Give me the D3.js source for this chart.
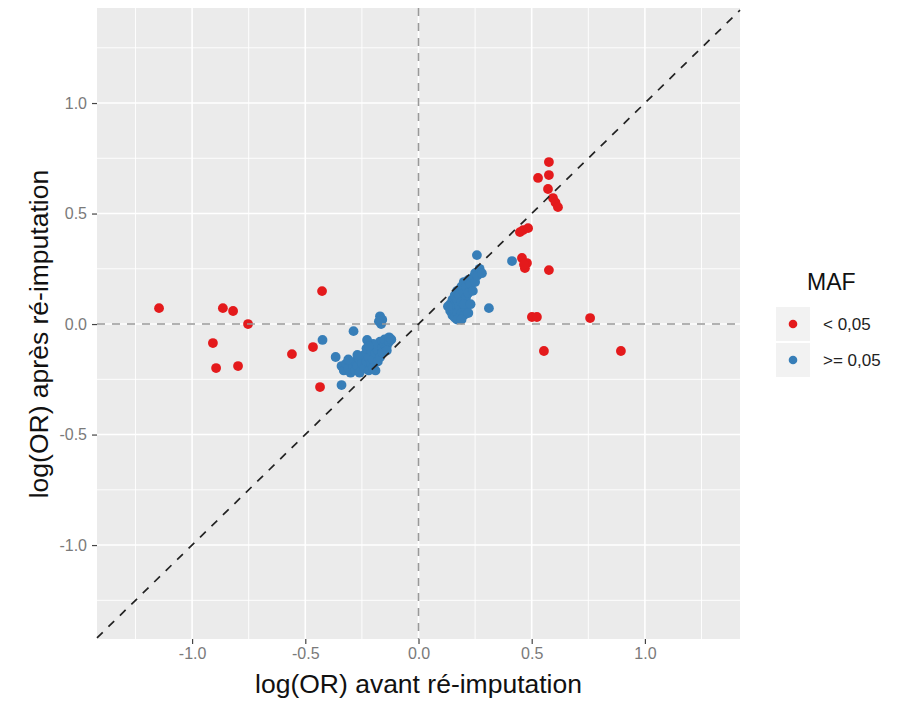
<!DOCTYPE html>
<html>
<head>
<meta charset="utf-8">
<script src="https://cdn.jsdelivr.net/npm/d3@7"></script>
<style>
  body { margin: 0; background: #fff; }
  text { font-family: "Liberation Sans", Arial, sans-serif; }
</style>
</head>
<body>
<div id="chart"></div>
<script>
// log(OR) avant / après ré-imputation, MAF < 0,05
let maf_low = [
    [-1.146, 0.072], [-0.864, 0.072], [-0.819, 0.059], [-0.753, 0.0],
    [-0.908, -0.086], [-0.894, -0.199], [-0.797, -0.19], [-0.426, 0.149],
    [-0.559, -0.136], [-0.466, -0.104], [-0.435, -0.285],
    [0.576, 0.733], [0.576, 0.674], [0.528, 0.661], [0.572, 0.611],
    [0.594, 0.57], [0.605, 0.55], [0.616, 0.529],
    [0.448, 0.416], [0.462, 0.425], [0.484, 0.434],
    [0.457, 0.299], [0.479, 0.276], [0.47, 0.253], [0.466, 0.27],
    [0.576, 0.244], [0.501, 0.032], [0.523, 0.032], [0.758, 0.027],
    [0.554, -0.122], [0.894, -0.122]
];

// MAF >= 0,05
let maf_high = [
    [-0.34, -0.19], [-0.33, -0.21], [-0.32, -0.18], [-0.31, -0.2], [-0.3, -0.22],
    [-0.29, -0.19], [-0.28, -0.17], [-0.28, -0.21], [-0.27, -0.19], [-0.26, -0.22],
    [-0.26, -0.16], [-0.25, -0.18], [-0.24, -0.2], [-0.24, -0.14], [-0.23, -0.17],
    [-0.23, -0.11], [-0.22, -0.21], [-0.22, -0.15], [-0.21, -0.18], [-0.21, -0.12],
    [-0.2, -0.16], [-0.2, -0.2], [-0.19, -0.13], [-0.19, -0.1], [-0.18, -0.17],
    [-0.18, -0.12], [-0.17, -0.15], [-0.17, -0.08], [-0.16, -0.11], [-0.16, -0.13],
    [-0.15, -0.09], [-0.15, -0.07], [-0.14, -0.1], [-0.13, -0.08], [-0.13, -0.06],
    [-0.12, -0.07], [-0.2, -0.09], [-0.227, -0.072], [-0.287, -0.032],
    [-0.31, -0.16], [-0.27, -0.14], [-0.19, -0.21], [-0.14, -0.12], [-0.22, -0.1],
    [-0.17, 0.035], [-0.16, 0.02], [-0.165, 0.0], [-0.175, 0.012],
    [-0.366, -0.149], [-0.34, -0.276], [-0.424, -0.072],
    [0.14, 0.06], [0.14, 0.09], [0.15, 0.04], [0.15, 0.11], [0.15, 0.07],
    [0.16, 0.03], [0.16, 0.13], [0.16, 0.09], [0.17, 0.05], [0.17, 0.15],
    [0.17, 0.11], [0.18, 0.03], [0.18, 0.08], [0.18, 0.13], [0.19, 0.05],
    [0.19, 0.17], [0.19, 0.1], [0.2, 0.04], [0.2, 0.14], [0.2, 0.19],
    [0.21, 0.07], [0.21, 0.12], [0.21, 0.17], [0.22, 0.05], [0.22, 0.2],
    [0.22, 0.14], [0.23, 0.18], [0.24, 0.21], [0.25, 0.19], [0.25, 0.23],
    [0.26, 0.22], [0.27, 0.25], [0.28, 0.23], [0.17, 0.02], [0.2, 0.09],
    [0.23, 0.09], [0.24, 0.15], [0.13, 0.08], [0.19, 0.02],
    [0.258, 0.312], [0.413, 0.285], [0.311, 0.072]
];

let major_ticks = [-1.0, -0.5, 0.0, 0.5, 1.0];
let minor_ticks = [-1.25, -0.75, -0.25, 0.25, 0.75, 1.25];
let legend_groups = ["< 0,05", ">= 0,05"];
let palette = ["#e41a1c", "#377eb8"];

function main() {
    let w = 903, h = 718;
    let svg = d3.select("#chart").append("svg")
        .attr("width", w)
        .attr("height", h);

    let x = d3.scaleLinear().domain([-1.42, 1.42]).range([97, 740]);
    let y = d3.scaleLinear().domain([-1.425, 1.43]).range([639, 8]);
    let [x0, x1] = x.range(), [y1, y0] = y.range();

    // panel
    svg.append("rect")
        .attr("x", x0).attr("y", y0)
        .attr("width", x1 - x0).attr("height", y1 - y0)
        .attr("fill", "#ebebeb");

    let grid = svg.append("g");
    minor_ticks.forEach(t => {
        grid.append("line").attr("x1", x(t)).attr("x2", x(t)).attr("y1", y0).attr("y2", y1)
            .attr("stroke", "#fff").attr("stroke-width", 0.9);
        grid.append("line").attr("y1", y(t)).attr("y2", y(t)).attr("x1", x0).attr("x2", x1)
            .attr("stroke", "#fff").attr("stroke-width", 0.9);
    });
    major_ticks.forEach(t => {
        grid.append("line").attr("x1", x(t)).attr("x2", x(t)).attr("y1", y0).attr("y2", y1)
            .attr("stroke", "#fff").attr("stroke-width", 1.6);
        grid.append("line").attr("y1", y(t)).attr("y2", y(t)).attr("x1", x0).attr("x2", x1)
            .attr("stroke", "#fff").attr("stroke-width", 1.6);
    });

    // points
    let groups = [maf_high, maf_low];
    let colors = [palette[1], palette[0]];
    groups.forEach((g, i) => {
        svg.append("g").selectAll("circle")
            .data(g)
            .enter().append("circle")
            .attr("cx", d => x(d[0]))
            .attr("cy", d => y(d[1]))
            .attr("r", 4.9)
            .attr("fill", colors[i]);
    });

    // reference lines
    svg.append("line")
        .attr("x1", x(0)).attr("x2", x(0)).attr("y1", y0).attr("y2", y1)
        .attr("stroke", "#999").attr("stroke-width", 1.6)
        .attr("stroke-dasharray", "8,7");
    svg.append("line")
        .attr("x1", x0).attr("x2", x1).attr("y1", y(0)).attr("y2", y(0))
        .attr("stroke", "#999").attr("stroke-width", 1.6)
        .attr("stroke-dasharray", "8,7");
    let lo = Math.max(x.domain()[0], y.domain()[0]);
    let hi = Math.min(x.domain()[1], y.domain()[1]);
    svg.append("line")
        .attr("x1", x(lo)).attr("y1", y(lo))
        .attr("x2", x(hi)).attr("y2", y(hi))
        .attr("stroke", "#222").attr("stroke-width", 1.7)
        .attr("stroke-dasharray", "8,8");

    // axes
    let xAxis = svg.append("g")
        .attr("transform", `translate(0,${y1})`)
        .call(d3.axisBottom(x).tickValues(major_ticks).tickFormat(d3.format(".1f")).tickSize(5).tickPadding(4));
    let yAxis = svg.append("g")
        .attr("transform", `translate(${x0},0)`)
        .call(d3.axisLeft(y).tickValues(major_ticks).tickFormat(d3.format(".1f")).tickSize(5).tickPadding(5));
    [xAxis, yAxis].forEach(a => {
        a.select(".domain").remove();
        a.selectAll(".tick line").attr("stroke", "#444").attr("stroke-width", 1.2);
        a.selectAll(".tick text")
            .attr("fill", "#7a7a7a")
            .style("font-size", "16px")
            .style("font-family", "'Liberation Sans', Arial, sans-serif");
    });
    xAxis.selectAll(".tick text").text(d => d3.format(".1f")(d).replace("−", "-"));
    yAxis.selectAll(".tick text").text(d => d3.format(".1f")(d).replace("−", "-"));

    svg.append("text")
        .attr("x", x(0)).attr("y", 693)
        .attr("text-anchor", "middle")
        .style("font-size", "26.5px")
        .attr("fill", "#111")
        .text("log(OR) avant ré-imputation");
    svg.append("text")
        .attr("transform", `translate(48,${y(0) + 10}) rotate(-90)`)
        .attr("text-anchor", "middle")
        .style("font-size", "26.5px")
        .attr("fill", "#111")
        .text("log(OR) après ré-imputation");

    // legend
    let legend = svg.append("g").attr("transform", "translate(776,0)");
    legend.append("text")
        .attr("x", 31).attr("y", 290)
        .style("font-size", "23px")
        .attr("fill", "#111")
        .text("MAF");
    legend_groups.forEach((label, i) => {
        let top = 307 + i * 36;
        legend.append("rect")
            .attr("x", 0).attr("y", top)
            .attr("width", 34).attr("height", 34)
            .attr("fill", "#f2f2f2");
        legend.append("circle")
            .attr("cx", 17).attr("cy", top + 17)
            .attr("r", 4.3)
            .attr("fill", palette[i]);
        legend.append("text")
            .attr("x", 47).attr("y", top + 23)
            .style("font-size", "17px")
            .attr("fill", "#222")
            .text(label);
    });
}

main();
</script>
</body>
</html>
